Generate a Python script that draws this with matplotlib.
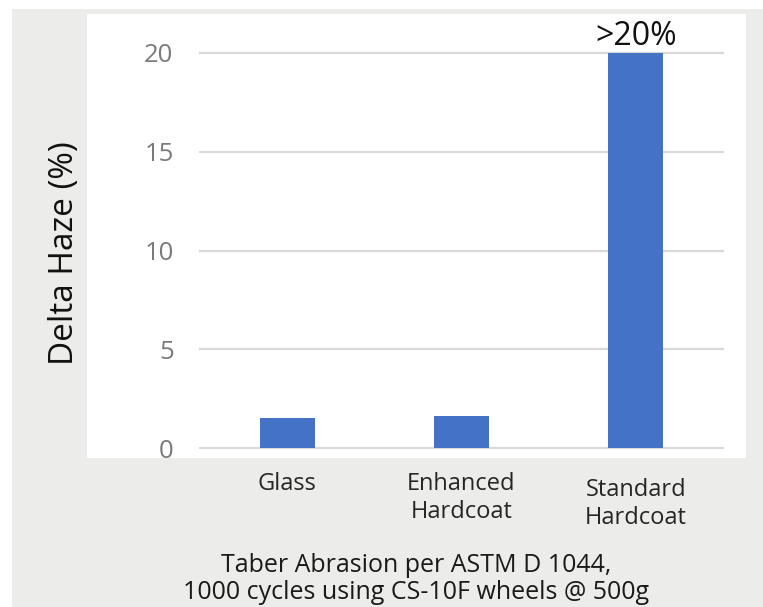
import matplotlib
matplotlib.use("Agg")
import matplotlib.pyplot as plt
from matplotlib.patches import Rectangle
import matplotlib.transforms as mtransforms

categories = ["Glass", "Enhanced\nHardcoat", "Standard\nHardcoat"]
values = [1.5, 1.62, 20.0]
yticks = [0, 5, 10, 15, 20]
annotation = ">20%"
ylabel = "Delta Haze (%)"
caption = "Taber Abrasion per ASTM D 1044,\n1000 cycles using CS-10F wheels @ 500g"

plt.rcParams['font.family'] = ['Open Sans', 'DejaVu Sans']

W, H = 763, 607
fig = plt.figure(figsize=(W / 100, H / 100), dpi=100)
fig.patch.set_facecolor("white")

# gray outer panel and white plot panel
fig.patches.append(Rectangle((12 / W, 0), 1 - 12 / W, 1 - 9 / H, transform=fig.transFigure,
                             facecolor="#ececea", edgecolor="none", zorder=-3))
fig.patches.append(Rectangle((87 / W, 1 - 458 / H), (746 - 87) / W, (458 - 14) / H,
                             transform=fig.transFigure, facecolor="white", edgecolor="none", zorder=-2))

ax = fig.add_axes([200 / W, 1 - 448 / H, 523 / W, (448 - 53) / H])
ax.set_zorder(1)
ax.set_facecolor("none")
x = list(range(len(categories)))
ax.bar(x, values, width=0.315, color="#4472c4", zorder=3)
ax.set_xlim(-0.5, len(categories) - 0.5)
ax.set_ylim(0, 20)
for s in ax.spines.values():
    s.set_visible(False)
for yv in yticks:
    ax.axhline(yv, color="#d9d9d9", lw=1.6, zorder=1, clip_on=False)
ax.set_yticks(yticks)
ax.set_yticklabels([str(v) for v in yticks], fontsize=18.5, color="#7a7a7a")
ax.tick_params(axis="y", length=0, pad=19)
ax.set_xticks([])

trans = mtransforms.blended_transform_factory(ax.transData, ax.transAxes)
offsets = [0, 0, -6]
for xi, lab, off in zip(x, categories, offsets):
    ax.text(xi, 0, lab, transform=trans + mtransforms.ScaledTranslation(0, (-24 + off) / 100, fig.dpi_scale_trans),
            ha="center", va="top", fontsize=17, color="#262626", linespacing=1.2)

ax.text(x[2], values[2], annotation, ha="center", va="bottom", fontsize=23, color="#111111",
        transform=ax.transData + mtransforms.ScaledTranslation(0, 0 / 100, fig.dpi_scale_trans))

fig.text(64 / W, 1 - 253 / H, ylabel, rotation=90, ha="center", va="center", fontsize=24, color="#111111")
fig.text(416 / W, 1 - 553 / H, caption, ha="center", va="top", fontsize=18, color="#1a1a1a",
         linespacing=1.12)

fig.savefig("out.png", dpi=100, facecolor=fig.get_facecolor())
